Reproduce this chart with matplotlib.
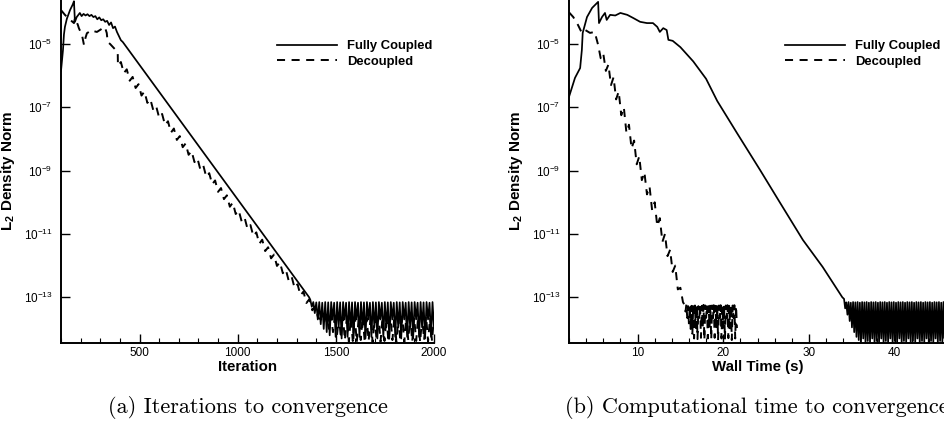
import numpy as np
import matplotlib.pyplot as plt
from matplotlib.ticker import FixedLocator, MultipleLocator, NullLocator, FuncFormatter

plt.rcParams['font.family'] = ['Liberation Sans', 'DejaVu Sans']
plt.rcParams['mathtext.fontset'] = 'custom'
plt.rcParams['mathtext.rm'] = 'Liberation Sans'
plt.rcParams['mathtext.bf'] = 'Liberation Sans:bold'
plt.rcParams['lines.scale_dashes'] = False

# all norms stored as log10 values

# (a) fully coupled vs iteration
fc_it = [100, 110, 115, 120, 130, 146, 160, 166, 171, 180, 196, 205, 215, 225, 235,
         245, 255, 265, 275, 285, 295, 305, 315, 325, 335, 345, 355, 365, 375, 385,
         395, 405, 415, 1364]
fc_log = [-5.85, -5.2, -4.7, -4.46, -4.2, -3.93, -3.75, -3.65, -4.3, -4.15, -4.02, -4.12,
          -4.05, -4.1, -4.06, -4.12, -4.08, -4.15, -4.12, -4.22, -4.16, -4.25, -4.22, -4.3,
          -4.27, -4.4, -4.32, -4.5, -4.45, -4.62, -4.75, -4.88, -4.94, -13.0]
fc_flat_it = (1370, 2000)
fc_flat_log = [-13.08, -13.3, -13.15, -13.5, -13.16, -13.7, -13.15, -13.85, -13.17, -14.0,
               -13.15, -14.1, -13.16, -14.2, -13.15, -13.7, -13.17, -14.25, -13.15, -13.95,
               -13.16, -14.3, -13.15, -13.7, -13.17, -14.25, -13.15, -13.95, -13.16, -14.3,
               -13.15, -13.7, -13.17, -14.25, -13.15, -13.95, -13.16, -14.3, -13.15, -13.7,
               -13.17, -14.25, -13.15, -13.95, -13.16, -14.3, -13.15, -13.7, -13.17, -14.25,
               -13.15, -13.95, -13.16, -14.3, -13.15, -13.7, -13.17, -14.25, -13.15, -13.95,
               -13.16, -14.3, -13.15, -13.7, -13.17, -14.25, -13.15, -13.95, -13.16, -14.3,
               -13.15, -13.7, -13.17, -14.25, -13.15, -13.95, -13.16, -14.3, -13.15, -13.7,
               -13.17, -14.25, -13.15, -13.95]

# (a) decoupled vs iteration
dc_it = [100, 120, 140, 166, 171, 186, 191, 207, 217, 225, 232, 257, 270, 283, 298, 323,
         333, 338, 350, 365, 380, 389]
dc_log = [-3.93, -4.08, -4.2, -4.34, -4.18, -4.4, -4.5, -4.72, -5.03, -4.8, -4.66, -4.56,
          -4.6, -4.62, -4.56, -4.46, -4.65, -4.94, -5.0, -5.1, -5.2, -5.25]
dc_fall_it = (390, 1410)
dc_fall_log = [-5.69, -5.57, -5.92, -5.80, -6.16, -6.04, -6.39, -6.27, -6.63, -6.50,
               -6.86, -6.74, -7.09, -6.97, -7.33, -7.21, -7.56, -7.44, -7.80, -7.67,
               -8.03, -7.91, -8.26, -8.14, -8.50, -8.38, -8.73, -8.61, -8.97, -8.84,
               -9.20, -9.08, -9.43, -9.31, -9.67, -9.55, -9.90, -9.78, -10.14, -10.01,
               -10.37, -10.25, -10.60, -10.48, -10.84, -10.72, -11.07, -10.95, -11.31, -11.18,
               -11.54, -11.42, -11.77, -11.65, -12.01, -11.89, -12.24, -12.12, -12.48, -12.35,
               -12.71, -12.59, -12.94, -12.82, -13.18, -13.06, -13.41, -13.29, -13.65]
dc_flat_it = (1425, 2000)
dc_flat_log = [-13.7, -13.5, -13.85, -13.55, -14.0, -13.6, -14.1, -13.55, -14.2, -13.6,
               -14.3, -13.62, -14.35, -13.6, -14.4, -13.65, -14.38, -13.6, -14.42, -13.62,
               -14.35, -13.6, -14.4, -13.65, -14.38, -13.6, -14.42, -13.62, -14.35, -13.6,
               -14.4, -13.65, -14.38, -13.6, -14.42, -13.62, -14.35, -13.6, -14.4, -13.65,
               -14.38, -13.6, -14.42, -13.62, -14.35, -13.6, -14.4, -13.65, -14.38, -13.6,
               -14.42, -13.62, -14.35, -13.6, -14.4, -13.65, -14.38, -13.6]

# (b) fully coupled vs wall time
fc_t = [2.0, 2.7, 3.3, 3.5, 3.6, 4.1, 4.7, 5.3, 5.4, 5.5, 5.85, 6.2, 6.4, 6.8, 7.4, 8.0,
        8.8, 9.5, 10.3, 11.1, 11.8, 12.3, 12.6, 13.0, 13.4, 13.6, 14.1, 15.0, 16.5, 18.0,
        19.3, 21.6, 24.3, 26.6, 29.3, 31.6, 33.9]
fc_t_log = [-6.67, -6.07, -5.76, -5.19, -4.65, -4.15, -3.86, -3.7, -3.67, -4.34, -4.15,
            -4.02, -4.24, -4.08, -4.1, -4.02, -4.08, -4.18, -4.3, -4.34, -4.34, -4.46,
            -4.62, -4.5, -4.56, -4.87, -4.9, -5.1, -5.55, -6.1, -6.8, -7.81, -8.98, -10.0,
            -11.19, -12.04, -13.0]
fc_t_flat = (34.1, 46.1)
fc_t_flat_log = [-13.05, -13.35, -13.16, -13.55, -13.15, -13.75, -13.17, -13.95, -13.15, -14.1,
                 -13.16, -14.25, -13.15, -14.35, -13.17, -14.42, -13.15, -14.3, -13.16, -14.45,
                 -13.15, -14.38, -13.17, -14.42, -13.15, -14.3, -13.16, -14.45, -13.15, -14.38,
                 -13.17, -14.42, -13.15, -14.3, -13.16, -14.45, -13.15, -14.38, -13.17, -14.42,
                 -13.15, -14.3, -13.16, -14.45, -13.15, -14.38, -13.17, -14.42, -13.15, -14.3,
                 -13.16, -14.45, -13.15, -14.38, -13.17, -14.42, -13.15, -14.3, -13.16, -14.45,
                 -13.15, -14.38, -13.17, -14.42, -13.15, -14.3, -13.16, -14.45, -13.15, -14.38,
                 -13.17, -14.42, -13.15, -14.3, -13.16, -14.45, -13.15, -14.38, -13.17, -14.42,
                 -13.15, -14.3, -13.16, -14.45, -13.15, -14.38, -13.17, -14.42, -13.15, -14.3,
                 -13.16, -14.45]

# (b) decoupled vs wall time
dc_t = [2.0, 2.5, 3.05, 3.5, 3.9, 4.45, 5.0, 5.4, 5.7, 6.0, 6.3, 6.6, 6.9, 7.2, 7.5, 7.8,
        8.1, 8.4, 8.7, 9.0, 9.3, 9.6, 9.9, 10.2, 10.5, 10.8, 11.1, 11.4, 11.7, 12.0, 12.3,
        12.6, 12.9, 13.2, 13.5, 13.8, 14.1, 14.4, 14.7, 15.0, 15.3]
dc_t_log = [-4.0, -4.15, -4.4, -4.65, -4.56, -4.65, -4.62, -5.03, -5.45, -5.30, -5.85,
            -5.65, -6.30, -6.05, -6.75, -6.50, -7.25, -7.00, -7.80, -7.55, -8.30, -8.05,
            -8.80, -8.55, -9.30, -9.05, -9.75, -9.50, -10.25, -10.00, -10.75, -10.50,
            -11.25, -11.00, -11.70, -11.50, -12.20, -12.00, -12.75, -12.70, -13.15]
dc_t_flat = (15.5, 21.6)
dc_t_flat_log = [-13.25, -13.45, -13.22, -13.65, -13.28, -13.85, -13.24, -14.0, -13.27, -14.15,
                 -13.25, -14.3, -13.26, -13.97, -13.24, -14.32, -13.28, -13.65, -13.25, -14.28,
                 -13.27, -13.97, -13.24, -14.35, -13.26, -13.65, -13.25, -14.3, -13.28, -13.97,
                 -13.24, -14.33, -13.26, -13.66, -13.25, -14.28, -13.27, -13.98, -13.24, -14.35,
                 -13.26, -13.65, -13.25, -14.3, -13.28, -13.96, -13.24, -14.33, -13.26, -13.66,
                 -13.25, -14.29, -13.27, -13.98, -13.24, -14.35, -13.26, -13.65, -13.25, -14.3,
                 -13.27, -13.97]

y_ticks = [1e-13, 1e-11, 1e-9, 1e-7, 1e-5]
y_lim = (10 ** -14.434, 10 ** -3.611)
labels = ["Fully Coupled", "Decoupled"]
captions = ["(a) Iterations to convergence", "(b) Computational time to convergence"]


def series(knot_x, knot_log, flat_span, flat_log, mid=None):
    xs = [np.asarray(knot_x, float)]
    ys = [np.asarray(knot_log, float)]
    if mid is not None:
        xs.append(np.linspace(mid[0][0], mid[0][1], len(mid[1])))
        ys.append(np.asarray(mid[1], float))
    xs.append(np.linspace(flat_span[0], flat_span[1], len(flat_log)))
    ys.append(np.asarray(flat_log, float))
    return np.concatenate(xs), 10 ** np.concatenate(ys)


W, H = 945, 440
fig = plt.figure(figsize=(W / 100, H / 100), dpi=100)
ax1 = fig.add_axes([61 / W, 1 - 342.7 / H, 373 / W, 342.7 / H])
ax2 = fig.add_axes([569 / W, 1 - 342.7 / H, 377 / W, 342.7 / H])

x, y = series(fc_it, fc_log, fc_flat_it, fc_flat_log)
ax1.plot(x, y, color='black', lw=1.25, label=labels[0])
x, y = series(dc_it, dc_log, dc_flat_it, dc_flat_log, mid=(dc_fall_it, dc_fall_log))
ax1.plot(x, y, color='black', lw=1.4, dashes=(5.8, 4.7), label=labels[1])

x, y = series(fc_t, fc_t_log, fc_t_flat, fc_t_flat_log)
ax2.plot(x, y, color='black', lw=1.25, label=labels[0])
x, y = series(dc_t, dc_t_log, dc_t_flat, dc_t_flat_log)
ax2.plot(x, y, color='black', lw=1.4, dashes=(5.8, 4.7), label=labels[1])

ax1.set_xlim(100, 2000)
ax1.xaxis.set_major_locator(MultipleLocator(500))
ax1.xaxis.set_minor_locator(MultipleLocator(100))
ax1.set_xlabel("Iteration", fontsize=10.8, fontweight='bold')
ax2.set_xlim(2, 46)
ax2.xaxis.set_major_locator(MultipleLocator(10))
ax2.xaxis.set_minor_locator(MultipleLocator(2))
ax2.set_xlabel("Wall Time (s)", fontsize=10.8, fontweight='bold')

for ax, leg_x in ((ax1, 277), (ax2, 785)):
    ax.set_yscale('log')
    ax.set_ylim(*y_lim)
    ax.yaxis.set_major_locator(FixedLocator(y_ticks))
    ax.yaxis.set_minor_locator(NullLocator())
    ax.yaxis.set_major_formatter(FuncFormatter(lambda v, p: r'$10^{%d}$' % round(np.log10(v))))
    ax.set_ylabel(r'$\mathbf{L_2}$ Density Norm', fontsize=11, fontweight='bold')
    ax.yaxis.set_label_coords(-0.118, 0.5)
    ax.xaxis.set_label_coords(0.5, -0.05)
    for s in ('top', 'right'):
        ax.spines[s].set_visible(False)
    for s in ('left', 'bottom'):
        ax.spines[s].set_linewidth(1.4)
    ax.tick_params(which='major', direction='in', length=6.5, width=1.0, labelsize=8.5)
    ax.tick_params(which='minor', direction='in', length=3.6, width=0.8)
    ax.tick_params(axis='x', pad=3)
    ax.tick_params(axis='y', pad=6)
    ax.legend(loc='upper left', bbox_to_anchor=(leg_x / W, 1 - 40 / H),
              bbox_transform=fig.transFigure, frameon=False, borderpad=0,
              borderaxespad=0, handlelength=4.6, handletextpad=0.75, labelspacing=0.25,
              prop={'weight': 'bold', 'size': 9.4})

fig.text(248 / W, 1 - 407 / H, captions[0], family='cmr10', fontsize=16, ha='center', va='center')
fig.text(757 / W, 1 - 407 / H, captions[1], family='cmr10', fontsize=16, ha='center', va='center')

fig.savefig('out.png', dpi=100)
